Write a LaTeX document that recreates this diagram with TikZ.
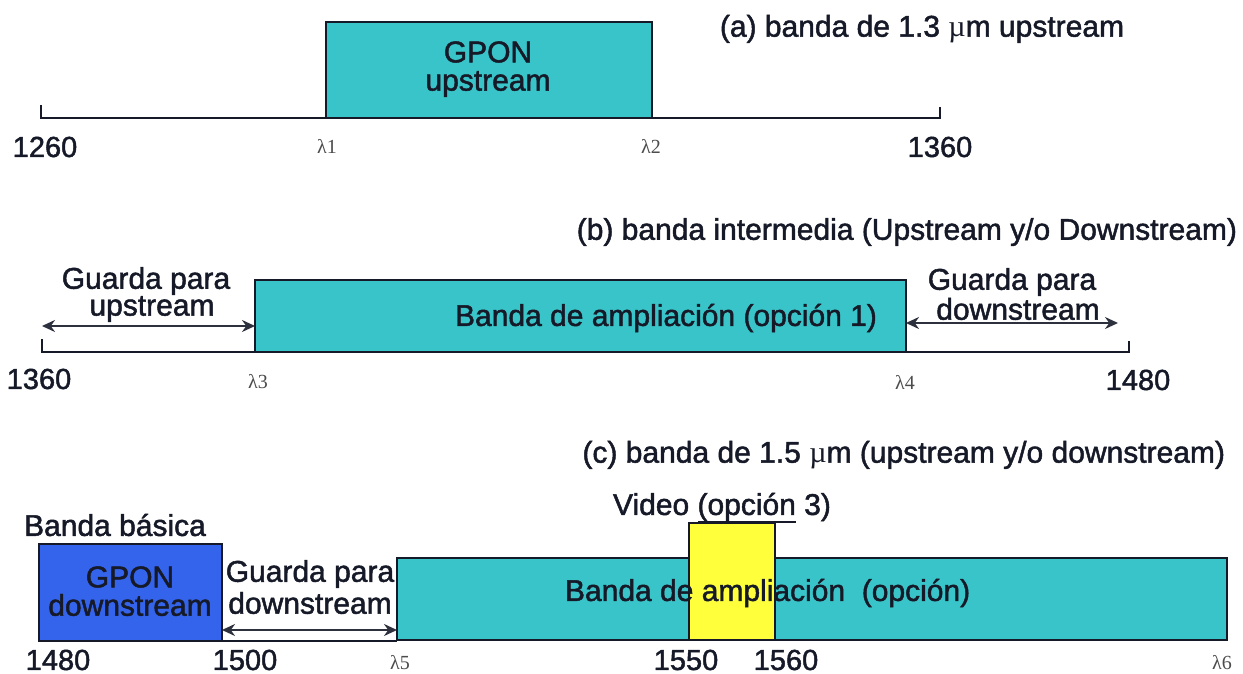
\documentclass[tikz,border=0pt]{standalone}
\usepackage{fontspec}
\setmainfont{Liberation Sans}[FakeBold=1.6]
\newfontfamily\lamfont{Liberation Serif}
\usetikzlibrary{arrows.meta}
\definecolor{bandcyan}{RGB}{56,196,200}
\definecolor{bandblue}{RGB}{52,100,236}
\definecolor{bandyellow}{RGB}{255,255,60}
\definecolor{ink}{RGB}{22,26,40}
\begin{document}
\begin{tikzpicture}[x=1pt,y=-1pt,
  every node/.style={inner sep=0pt, outer sep=0pt, text=ink},
  band/.style={draw=ink, line width=2.4pt, fill=bandcyan, anchor=north west},
  axisline/.style={draw=ink, line width=2pt},
  lbl/.style={font=\fontsize{30}{30}\selectfont},
  num/.style={font=\fontsize{29}{30}\selectfont},
  lam/.style={font=\lamfont\fontsize{20}{21}\selectfont, text=black!70},
  guard/.style={draw=ink!90, line width=2pt, {Stealth[length=13pt,width=12pt]}-{Stealth[length=13pt,width=12pt]}}
]
\useasboundingbox (0,0) rectangle (1243,674);

% ---------------- (a) ----------------
\node[lbl] (ta) at (922,29) {(a) banda de 1.3 {\lamfont µ}m upstream};
\coordinate (a0) at (41,118);
\coordinate (a1) at (940,118);
\draw[axisline] ([yshift=13]a0) -- (a0) -- (a1) -- ([yshift=11]a1);
\node[band, minimum width=326, minimum height=96] (gpu) at (326,22) {};
\node[lbl] (gput1) at (488,52) {GPON};
\node[lbl] (gput2) at (488,84) {upstream};
\node[num] (l1260) at (45,147) {1260};
\node[lam] (lam1) at (327,146) {λ1};
\node[lam] (lam2) at (651,146) {λ2};
\node[num] (l1360a) at (940,147) {1360};

% ---------------- (b) ----------------
\node[lbl, anchor=east] (tb) at (1237,232) {(b) banda intermedia (Upstream y/o Downstream)};
\coordinate (b0) at (42,352);
\coordinate (b1) at (1129,352);
\draw[axisline] ([yshift=13]b0) -- (b0) -- (b1) -- ([yshift=11]b1);
\node[band, minimum width=651, minimum height=72] (amp1) at (255,280) {};
\node[lbl] (amp1t) at (666,318) {Banda de ampliación (opción 1)};
\coordinate (gul) at (42,326);
\draw[guard] (gul) -- (amp1.west |- gul);
\node[lbl] (gut1) at (146,281) {Guarda para};
\node[lbl] (gut2) at (152,309) {upstream};
\coordinate (gdr) at (1118,323);
\draw[guard] (amp1.east |- gdr) -- (gdr);
\node[lbl] (gdt1) at (1012,282) {Guarda para};
\node[lbl] (gdt2) at (1018,309) {downstream};
\node[num] (l1360b) at (39,379) {1360};
\node[lam] (lam3) at (258,382) {λ3};
\node[lam] (lam4) at (905,382) {λ4};
\node[num] (l1480b) at (1138,380) {1480};

% ---------------- (c) ----------------
\node[lbl, anchor=east] (tc) at (1225,455) {(c) banda de 1.5 {\lamfont µ}m (upstream y/o downstream)};
\node[lbl] (vid) at (722,507) {Video (opción 3)};
\node[lbl] (bb) at (115,525) {Banda básica};
\coordinate (c0) at (222,641);
\coordinate (c1) at (397,641);
\draw[axisline] (c0) -- (c1);
\node[band, fill=bandblue, minimum width=183, minimum height=97] (gpd) at (39,544) {};
\node[lbl] (gpdt1) at (130,577) {GPON};
\node[lbl] (gpdt2) at (130,605) {downstream};
\node[band, minimum width=830, minimum height=82] (amp2) at (397,558) {};
\node[band, fill=bandyellow, minimum width=86, minimum height=117] (vbox) at (689,523) {};
\coordinate (ul0) at (698,522);
\coordinate (ul1) at (796,522);
\draw[draw=ink, line width=1.6pt] (ul0) -- (ul1);
\node[lbl, anchor=west] (amp2t) at (565,593) {Banda de ampliación\ \ (opción)};
\node[lbl] (gdt3) at (310,574) {Guarda para};
\node[lbl] (gdt4) at (310,603) {downstream};
\coordinate (g2r) at (397,630);
\draw[guard] (gpd.east |- g2r) -- (amp2.west |- g2r);
\node[num] (l1480c) at (58,660) {1480};
\node[num] (l1500) at (245,660) {1500};
\node[lam] (lam5) at (400,663) {λ5};
\node[num] (l1550) at (686,660) {1550};
\node[num] (l1560) at (786,660) {1560};
\node[lam] (lam6) at (1222,663) {λ6};
\end{tikzpicture}
\end{document}
